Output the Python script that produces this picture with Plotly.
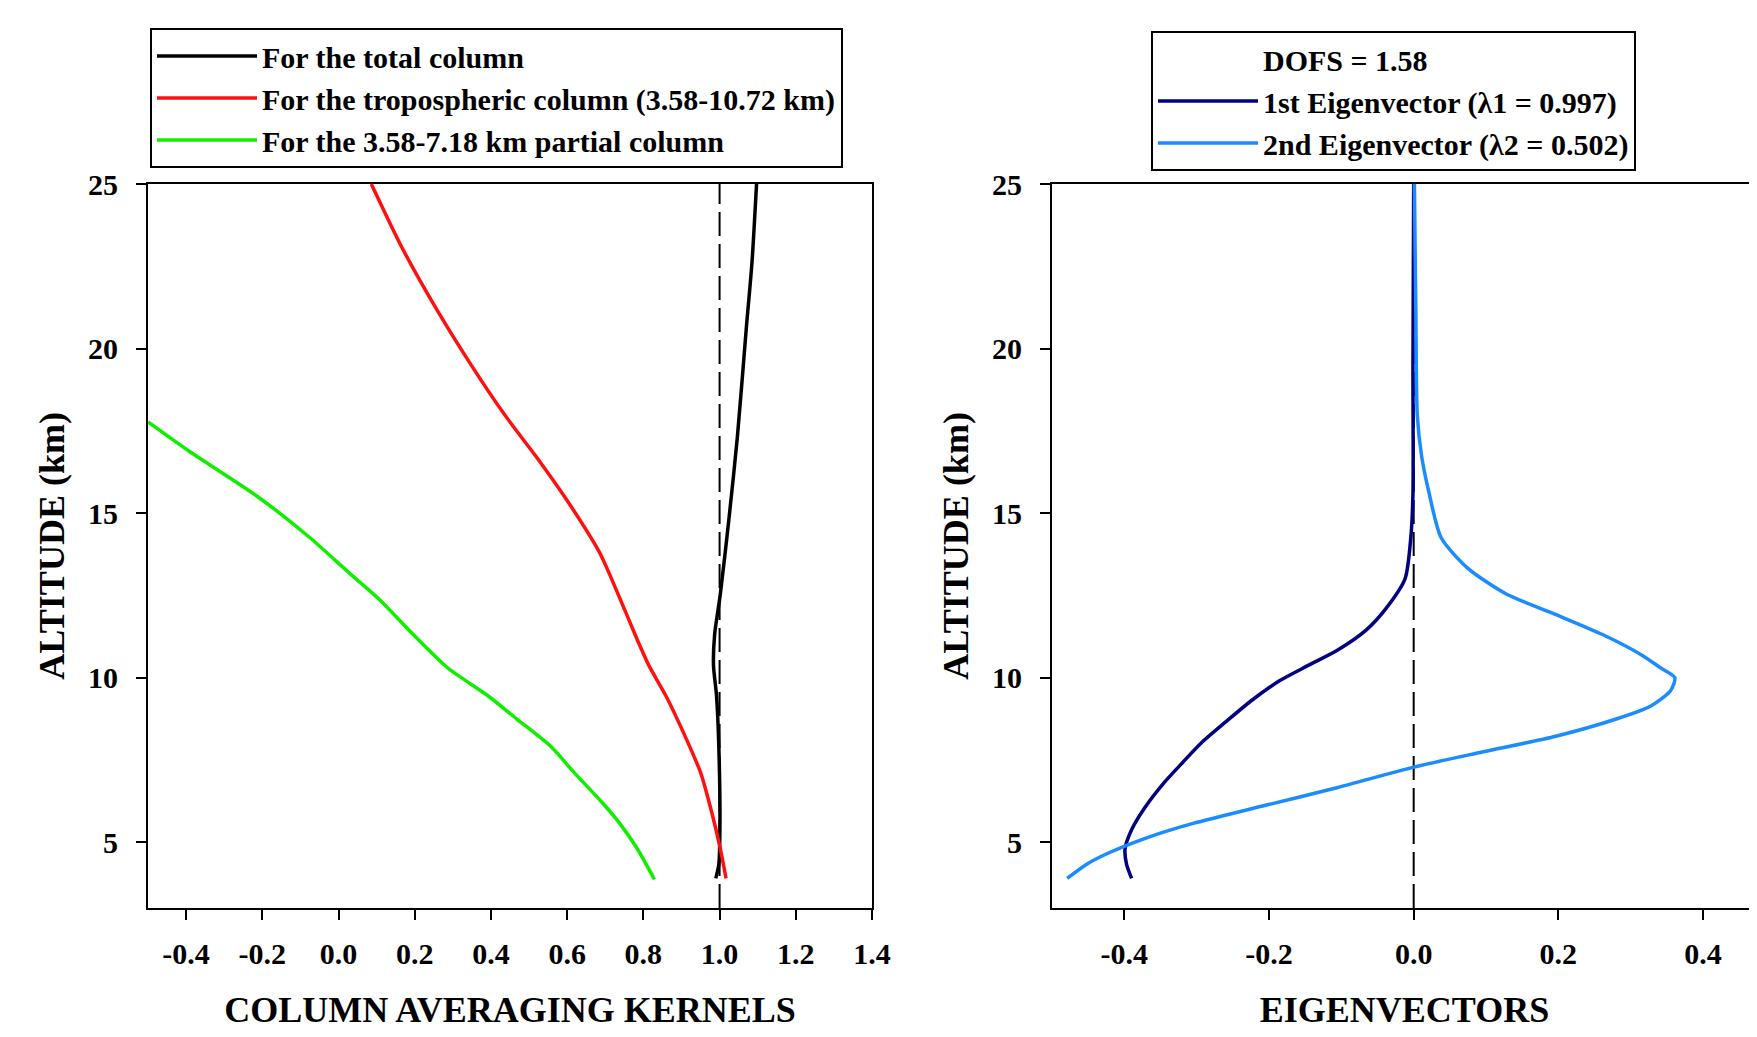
import plotly.graph_objects as go

# ---------------- data ----------------
green_alt = [17.77, 16.88, 15.49, 14.25, 13.16, 12.39, 11.31, 10.30, 9.45, 8.75, 7.90, 7.12, 6.19, 5.57, 4.80, 3.87]
green_val = [-0.50, -0.392, -0.211, -0.075, 0.030, 0.106, 0.196, 0.286, 0.392, 0.467, 0.558, 0.618, 0.693, 0.738, 0.784, 0.829]

red_alt = [25.0, 23.08, 21.22, 19.52, 17.97, 16.57, 15.33, 13.78, 12.39, 11.15, 10.38, 9.45, 8.36, 7.12, 5.88, 4.80, 3.90]
red_val = [0.086, 0.166, 0.256, 0.347, 0.437, 0.528, 0.603, 0.686, 0.739, 0.784, 0.814, 0.859, 0.904, 0.950, 0.980, 1.002, 1.017]

black_alt = [25.0, 22.61, 20.60, 17.35, 14.87, 12.54, 11.31, 10.38, 9.45, 7.90, 5.57, 4.33, 3.90]
black_val = [1.097, 1.085, 1.070, 1.047, 1.025, 1.002, 0.987, 0.984, 0.992, 0.998, 1.001, 0.998, 0.990]

ev1_alt = [25.0, 19.5, 15.6, 14.25, 13.0, 12.08, 11.46, 10.84, 10.38, 9.91, 9.29, 8.67, 8.05, 7.43, 6.81, 6.04, 5.42, 4.80, 4.33, 3.90]
ev1_val = [0.0, -0.001, -0.001, -0.004, -0.012, -0.039, -0.065, -0.105, -0.145, -0.185, -0.225, -0.259, -0.292, -0.319, -0.345, -0.372, -0.389, -0.399, -0.397, -0.390]

ev2_alt = [25.0, 21.07, 17.97, 16.73, 15.64, 14.25, 13.32, 12.54, 11.93, 11.31, 10.69, 10.30, 10.0, 9.60, 9.14, 8.75, 8.21, 7.74, 7.28, 6.66, 6.12, 5.57, 5.11, 4.64, 4.33, 3.90]
ev2_val = [0.001, 0.003, 0.005, 0.011, 0.021, 0.038, 0.075, 0.128, 0.195, 0.261, 0.315, 0.341, 0.361, 0.355, 0.328, 0.281, 0.195, 0.095, 0.0, -0.105, -0.205, -0.305, -0.372, -0.425, -0.452, -0.479]

ref_left_x = [1.0, 1.0]
ref_right_x = [0.0, 0.0]
ref_alt = [3, 25]

left_ticks = [-0.4, -0.2, 0.0, 0.2, 0.4, 0.6, 0.8, 1.0, 1.2, 1.4]
left_ticktext = ["-0.4", "-0.2", "0.0", "0.2", "0.4", "0.6", "0.8", "1.0", "1.2", "1.4"]
right_ticks = [-0.4, -0.2, 0.0, 0.2, 0.4]
right_ticktext = ["-0.4", "-0.2", "0.0", "0.2", "0.4"]
alt_ticks = [5, 10, 15, 20, 25]

FONT = "Liberation Serif, Times New Roman, serif"
W, H = 1749, 1029  # page has an 8px body margin

fig = go.Figure()

dash_line = dict(color="black", width=2, dash="24px,8px")
fig.add_trace(go.Scatter(x=ref_left_x, y=ref_alt, mode="lines", line=dash_line,
                         showlegend=False, hoverinfo="skip", xaxis="x", yaxis="y"))
fig.add_trace(go.Scatter(x=ref_right_x, y=ref_alt, mode="lines", line=dash_line,
                         showlegend=False, hoverinfo="skip", xaxis="x2", yaxis="y2"))

sm = dict(shape="spline", smoothing=0.7)
LW = 3.5
fig.add_trace(go.Scatter(x=black_val, y=black_alt, mode="lines", name="For the total column",
                         line=dict(color="black", width=LW, **sm), legend="legend", xaxis="x", yaxis="y"))
fig.add_trace(go.Scatter(x=red_val, y=red_alt, mode="lines",
                         name="For the tropospheric column (3.58-10.72 km)",
                         line=dict(color="#ff1010", width=LW, **sm), legend="legend", xaxis="x", yaxis="y"))
fig.add_trace(go.Scatter(x=green_val, y=green_alt, mode="lines",
                         name="For the 3.58-7.18 km partial column",
                         line=dict(color="#11ee00", width=LW, **sm), legend="legend", xaxis="x", yaxis="y"))

fig.add_trace(go.Scatter(x=[None], y=[None], mode="lines", name="DOFS = 1.58",
                         line=dict(color="rgba(0,0,0,0)", width=3), legend="legend2", xaxis="x2", yaxis="y2"))
fig.add_trace(go.Scatter(x=ev1_val, y=ev1_alt, mode="lines", name="1st Eigenvector (λ1 = 0.997)",
                         line=dict(color="#000080", width=LW, **sm), legend="legend2", xaxis="x2", yaxis="y2"))
fig.add_trace(go.Scatter(x=ev2_val, y=ev2_alt, mode="lines", name="2nd Eigenvector (λ2 = 0.502)",
                         line=dict(color="#1a8cff", width=LW, **sm), legend="legend2", xaxis="x2", yaxis="y2"))

tickfont = dict(family=FONT, size=30, color="black", weight="bold")
titlefont = dict(family=FONT, size=36, color="black", weight="bold")
legfont = dict(family=FONT, size=30, color="black", weight="bold")
ydom = [1 - 900 / H, 1 - 176 / H]

common_x = dict(showline=True, linecolor="black", linewidth=2, mirror=True, ticks="outside",
                ticklen=10, tickwidth=2, tickcolor="black", tickfont=tickfont, showgrid=False,
                zeroline=False, ticklabelstandoff=8, automargin=False)
common_y = dict(showline=True, linecolor="black", linewidth=2, ticks="outside",
                ticklen=10, tickwidth=2, tickcolor="black", tickfont=tickfont, showgrid=False,
                zeroline=False, range=[3, 25], tickvals=alt_ticks, ticklabelstandoff=12,
                domain=ydom, automargin=False)

fig.update_layout(
    width=W, height=H,
    margin=dict(l=0, r=0, t=0, b=0, autoexpand=False),
    paper_bgcolor="white", plot_bgcolor="white",
    xaxis=dict(**common_x, domain=[140 / W, 864 / W], range=[-0.5, 1.4],
               tickvals=left_ticks, ticktext=left_ticktext,
               title=dict(text="COLUMN AVERAGING KERNELS", font=titlefont, standoff=28)),
    yaxis=dict(**common_y, mirror=True,
               title=dict(text="ALTITUDE (km)", font=titlefont, standoff=12)),
    xaxis2=dict(**common_x, domain=[1044 / W, 1.0], range=[-0.5, 0.4746], anchor="y2",
                tickvals=right_ticks, ticktext=right_ticktext,
                title=dict(text="EIGENVECTORS", font=titlefont, standoff=28)),
    yaxis2=dict(**common_y, mirror=False, anchor="x2",
                title=dict(text="ALTITUDE (km)", font=titlefont, standoff=12)),
    legend=dict(x=142 / W, y=1 - 20 / H, xanchor="left", yanchor="top",
                bordercolor="black", borderwidth=2, bgcolor="white",
                font=legfont, itemwidth=100, tracegroupgap=0),
    legend2=dict(x=1143 / W, y=1 - 23 / H, xanchor="left", yanchor="top",
                 bordercolor="black", borderwidth=2, bgcolor="white",
                 font=legfont, itemwidth=100, tracegroupgap=0),
    showlegend=True,
)

fig.write_html("out.html")
